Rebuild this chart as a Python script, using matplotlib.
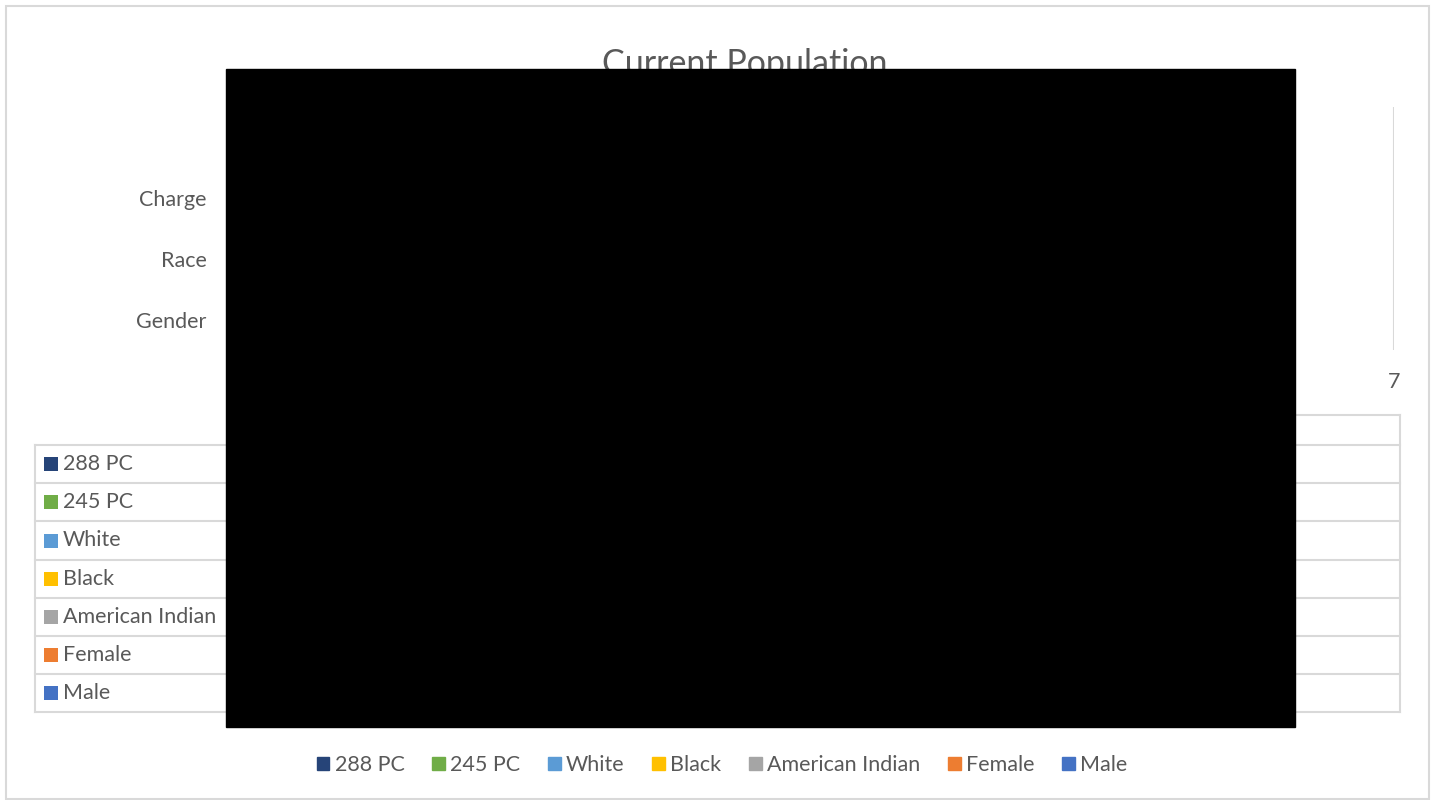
import matplotlib
matplotlib.use("Agg")
import matplotlib.pyplot as plt
from matplotlib.patches import Rectangle
from matplotlib.lines import Line2D

# ---- data ----
categories = ["Gender", "Race", "Charge", ""]
series_names = ["Male", "Female", "American Indian", "Black", "White", "245 PC", "288 PC"]
series_colors = ["#4472C4", "#ED7D31", "#A5A5A5", "#FFC000", "#5B9BD5", "#70AD47", "#264478"]
# value of each series per category (Gender, Race, Charge, blank)
male = [4, 0, 0, 0]
female = [2, 0, 0, 0]
american_indian = [0, 1, 0, 0]
black = [0, 2, 0, 0]
white = [0, 3, 0, 0]
pc245 = [0, 0, 2, 0]
pc288 = [0, 0, 4, 0]
series_values = [male, female, american_indian, black, white, pc245, pc288]
x_ticks = [0, 1, 2, 3, 4, 5, 6, 7]

W, H = 1437, 800
TXT = "#595959"
GRID = "#D9D9D9"
FONT = "Lato"
FS = 15.5
plt.rcParams["font.family"] = [FONT, "DejaVu Sans"]

fig = plt.figure(figsize=(W / 100, H / 100), dpi=100)

def fx(x):
    return x / W

def fy(y):
    return 1 - y / H

# outer chart border
fig.add_artist(Rectangle((fx(6), fy(799)), fx(1429) - fx(6), fy(6) - fy(799),
                         transform=fig.transFigure, fill=False, ec=GRID, lw=1.5))

# title
fig.text(fx(745), fy(64), "Current Population", ha="center", va="center",
         fontsize=24.5, color=TXT)

# main axes
L, R, T, B = 240, 1394, 107, 350
ax = fig.add_axes([fx(L), fy(B), fx(R) - fx(L), fy(T) - fy(B)])
ypos = list(range(len(categories)))
left = [0] * len(categories)
for name, vals, col in zip(series_names, series_values, series_colors):
    ax.barh(ypos, vals, left=left, color=col, height=0.5, label=name, zorder=3)
    left = [a + b for a, b in zip(left, vals)]
ax.set_xlim(0, 7)
ax.set_ylim(-0.5, len(categories) - 0.5)
ax.set_xticks(x_ticks)
ax.set_yticks(ypos)
ax.set_yticklabels(categories)
ax.grid(axis="x", color=GRID, lw=1.5, zorder=0)
for s in ax.spines.values():
    s.set_visible(False)
ax.tick_params(axis="both", length=0, colors=TXT, labelsize=FS)
ax.tick_params(axis="x", pad=16)
ax.tick_params(axis="y", pad=24)

# data table
tl, tr = 35, 1400
row_tops = [415, 445, 483, 521, 560, 598, 636, 674, 712]

def hline(y, x0=tl, x1=tr):
    fig.add_artist(Line2D([fx(x0), fx(x1)], [fy(y), fy(y)], transform=fig.transFigure,
                          color=GRID, lw=1.5))

def vline(x, y0, y1):
    fig.add_artist(Line2D([fx(x), fx(x)], [fy(y0), fy(y1)], transform=fig.transFigure,
                          color=GRID, lw=1.5))

hline(415, L, tr)
for y in row_tops[1:]:
    hline(y)
vline(tl, 445, 712)
vline(tr, 415, 712)
vline(L, 415, 712)
cat_w = (R - L) / len(categories)
for i in range(1, len(categories)):
    vline(L + i * cat_w, 415, 712)
for i, c in enumerate(categories):
    fig.text(fx(L + (i + 0.5) * cat_w), fy(430), c, ha="center", va="center",
             fontsize=FS, color=TXT)

table_order = list(range(len(series_names)))[::-1]
for r, si in enumerate(table_order):
    y0, y1 = row_tops[r + 1], row_tops[r + 2]
    yc = (y0 + y1) / 2
    fig.add_artist(Rectangle((fx(44), fy(yc + 7)), fx(58) - fx(44), fy(yc - 7) - fy(yc + 7),
                             transform=fig.transFigure, color=series_colors[si], lw=0))
    fig.text(fx(63), fy(yc), series_names[si], ha="left", va="center",
             fontsize=FS, color=TXT)
    for i, v in enumerate(series_values[si]):
        if v:
            fig.text(fx(L + (i + 0.5) * cat_w), fy(yc), str(v), ha="center",
                     va="center", fontsize=FS, color=TXT)

# bottom legend
handles = [Rectangle((0, 0), 1, 1, color=series_colors[i]) for i in table_order]
labels = [series_names[i] for i in table_order]
fig.legend(handles, labels, loc="center", bbox_to_anchor=(fx(722), fy(765)),
           ncol=len(labels), frameon=False, fontsize=FS, labelcolor=TXT,
           handlelength=0.6, handleheight=0.6, handletextpad=0.25,
           columnspacing=1.27)

# redaction box present in the reference image
fig.add_artist(Rectangle((fx(226), fy(727)), fx(1295) - fx(226), fy(69) - fy(727),
                         transform=fig.transFigure, color="black", zorder=100))

fig.savefig("out.png", dpi=100)
